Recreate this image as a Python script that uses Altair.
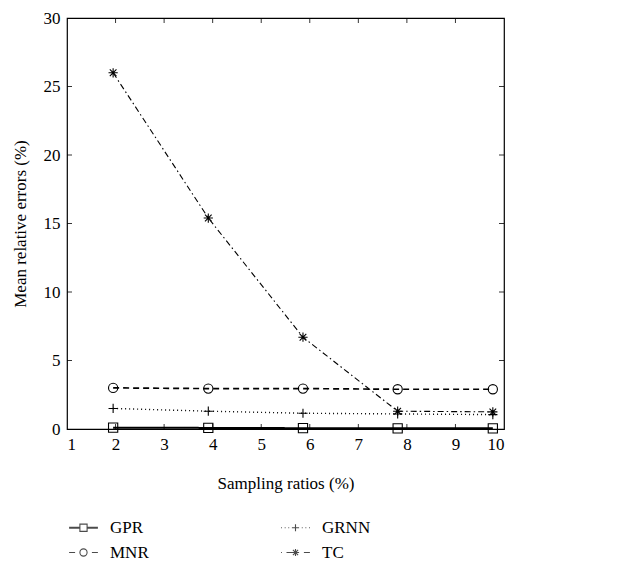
import altair as alt
import pandas as pd

# Sampling ratios (%) and mean relative errors (%) for each method
ratios = [1.95, 3.91, 5.86, 7.81, 9.77]
gpr = [0.10, 0.08, 0.06, 0.05, 0.05]
mnr = [3.0, 2.95, 2.95, 2.9, 2.9]
grnn = [1.5, 1.3, 1.15, 1.1, 1.05]
tc = [26.0, 15.4, 6.7, 1.3, 1.25]

methods = ["GPR", "MNR", "GRNN", "TC"]
x_ticks = list(range(1, 11))
y_ticks = [0, 5, 10, 15, 20, 25, 30]

W, H = 437, 411
FONT = "Liberation Serif"
FS = 17

rows = []
for name, vals in [("GPR", gpr), ("MNR", mnr), ("GRNN", grnn), ("TC", tc)]:
    for r, v in zip(ratios, vals):
        rows.append({"ratio": r, "err": v, "method": name})
df = pd.DataFrame(rows)

x_scale = alt.Scale(domain=[1, 10], nice=False)
y_scale = alt.Scale(domain=[0, 30], nice=False)

axis_style = dict(
    ticks=False, domain=False, grid=False, format="d",
    labelFont=FONT, labelFontSize=FS, labelColor="black",
    titleFont=FONT, titleFontSize=FS, titleColor="black", titleFontWeight="normal",
)

x_enc = alt.X(
    "ratio:Q", scale=x_scale, title="Sampling ratios (%)",
    axis=alt.Axis(values=x_ticks, labelPadding=7, titlePadding=23, **axis_style),
)
y_enc = alt.Y(
    "err:Q", scale=y_scale, title="Mean relative errors (%)",
    axis=alt.Axis(values=y_ticks, labelPadding=7, titlePadding=14, **axis_style),
)

dash_scale = alt.Scale(domain=methods, range=[[1, 0], [6, 4], [1, 3], [6, 3, 1.5, 3]])
width_scale = alt.Scale(domain=methods, range=[2.0, 1.1, 1.1, 1.1])

plus = "M-1,0H1M0,-1V1"
star = "M-1,0H1M0,-1V1M-0.72,-0.72L0.72,0.72M-0.72,0.72L0.72,-0.72"
shape_scale = alt.Scale(domain=methods, range=["square", "circle", plus, star])

lines = alt.Chart(df).mark_line(color="black").encode(
    x=x_enc, y=y_enc,
    strokeDash=alt.StrokeDash("method:N", scale=dash_scale, legend=None),
    strokeWidth=alt.StrokeWidth("method:N", scale=width_scale, legend=None),
    detail="method:N",
)

points = alt.Chart(df).mark_point(
    filled=False, color="black", strokeWidth=1.1, size=85, opacity=1
).encode(
    x="ratio:Q", y="err:Q",
    shape=alt.Shape("method:N", scale=shape_scale, legend=None),
)

# Legend symbols: line segment plus marker, in units of 6px (size 144)
L = 2.4
m = 0.6
def seg(a, b):
    return f"M{a},0H{b}"

leg_gpr = (f"M{-L},-0.08H{-m}M{-L},0.08H{-m}M{m},-0.08H{L}M{m},0.08H{L}"
           f"M{-m},{-m}H{m}V{m}H{-m}Z")
leg_grnn = "".join(seg(a, a + 0.15) for a in [-L, -1.8, -1.2]) + \
    "".join(seg(a, a + 0.15) for a in [1.05, 1.65, 2.25]) + \
    f"M{-m},0H{m}M0,{-m}V{m}"
leg_mnr = seg(-L, -1.4) + seg(1.4, L) + \
    f"M{-m},0A{m},{m} 0 1,1 {m},0A{m},{m} 0 1,1 {-m},0"
leg_tc = seg(-L, -2.25) + seg(-1.5, -m) + seg(1.4, L) + \
    f"M{-m},0H{m}M0,{-m}V{m}M{-0.43},{-0.43}L0.43,0.43M{-0.43},0.43L0.43,{-0.43}"

legend_scale = alt.Scale(domain=methods, range=[leg_gpr, leg_mnr, leg_grnn, leg_tc])

legend_layer = alt.Chart(df).mark_point(filled=False, color="black").encode(
    x="ratio:Q", y="err:Q",
    shape=alt.Shape(
        "method:N", scale=legend_scale, sort=methods,
        legend=alt.Legend(
            title=None, orient="none", legendX=8, legendY=501, columns=2,
            symbolSize=144, symbolStrokeWidth=1.1, symbolStrokeColor="black",
            symbolFillColor="transparent", labelFont=FONT, labelFontSize=FS,
            labelColor="black", labelOffset=18, columnPadding=129, rowPadding=7,
        ),
    ),
).transform_filter("false")

# Inward-facing tick marks on all four sides
xt = pd.DataFrame({"t": x_ticks[1:-1]})
yt = pd.DataFrame({"t": y_ticks[1:-1]})
tick_len = 5
bottom_ticks = alt.Chart(xt).mark_rule(color="black", strokeWidth=0.8).encode(
    x=alt.X("t:Q", scale=x_scale), y=alt.value(H), y2=alt.value(H - tick_len))
top_ticks = alt.Chart(xt).mark_rule(color="black", strokeWidth=0.8).encode(
    x=alt.X("t:Q", scale=x_scale), y=alt.value(0), y2=alt.value(tick_len))
left_ticks = alt.Chart(yt).mark_rule(color="black", strokeWidth=0.8).encode(
    y=alt.Y("t:Q", scale=y_scale), x=alt.value(0), x2=alt.value(tick_len))
right_ticks = alt.Chart(yt).mark_rule(color="black", strokeWidth=0.8).encode(
    y=alt.Y("t:Q", scale=y_scale), x=alt.value(W), x2=alt.value(W - tick_len))

chart = alt.layer(
    lines, points, legend_layer, bottom_ticks, top_ticks, left_ticks, right_ticks
).resolve_scale(
    shape="independent"
).properties(
    width=W, height=H, background="white",
    autosize=alt.AutoSizeParams(type="none"),
    padding={"left": 67, "top": 18, "right": 129, "bottom": 135},
).configure(
    font=FONT
).configure_view(
    stroke="black", strokeWidth=1.2
).configure_legend(
    labelFont=FONT, labelFontSize=FS, labelColor="black"
)

chart.save("out.html", embed_options={"renderer": "svg", "actions": False})
